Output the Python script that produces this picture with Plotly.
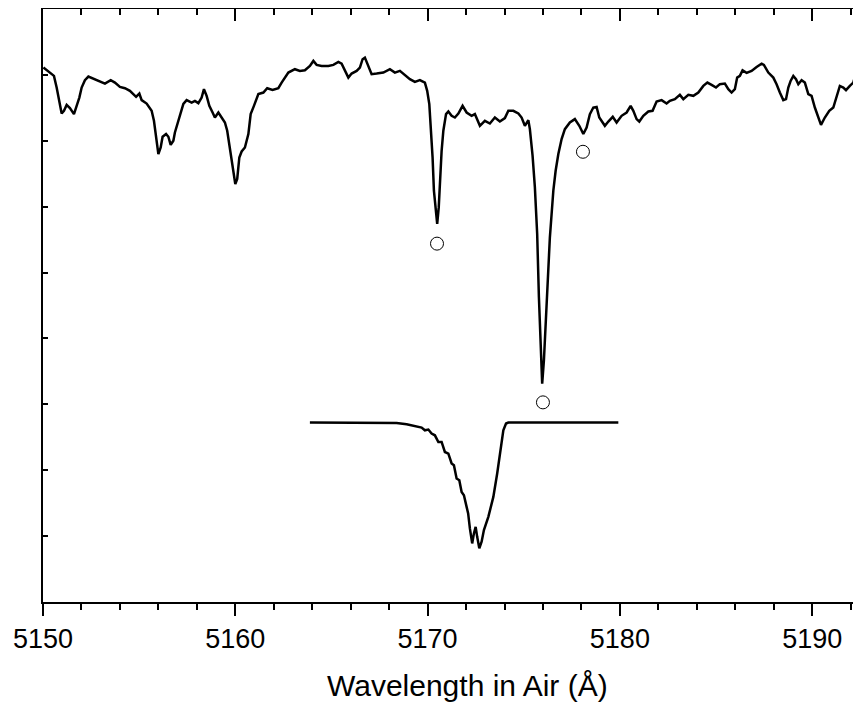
import plotly.graph_objects as go

# Observed spectrum (wavelength in Å, relative flux units)
spec_wl = [5150.02,5150.45,5150.57,5150.71,5150.85,5150.97,5151.09,5151.23,5151.40,5151.61,
5151.75,5151.89,5152.01,5152.18,5152.36,5152.79,5153.22,5153.52,5153.74,5154.00,
5154.26,5154.52,5154.84,5155.01,5155.13,5155.39,5155.65,5155.77,5155.88,5156.00,
5156.12,5156.22,5156.40,5156.52,5156.64,5156.78,5156.86,5156.98,5157.12,5157.30,
5157.47,5157.73,5157.90,5158.08,5158.25,5158.37,5158.51,5158.65,5158.82,5158.94,
5159.12,5159.29,5159.46,5159.58,5159.69,5159.81,5159.90,5160.00,5160.10,5160.21,
5160.33,5160.50,5160.68,5160.80,5160.97,5161.20,5161.46,5161.66,5161.94,5162.24,
5162.41,5162.76,5163.10,5163.36,5163.62,5163.88,5164.06,5164.23,5164.49,5164.84,
5165.10,5165.36,5165.53,5165.70,5165.88,5166.05,5166.31,5166.48,5166.62,5166.74,
5166.92,5167.09,5167.35,5167.70,5168.04,5168.30,5168.56,5168.82,5169.08,5169.34,
5169.60,5169.86,5169.98,5170.09,5170.18,5170.26,5170.33,5170.44,5170.50,5170.58,
5170.64,5170.73,5170.82,5170.96,5171.08,5171.25,5171.42,5171.60,5171.82,5172.03,
5172.29,5172.46,5172.72,5172.98,5173.24,5173.50,5173.76,5174.02,5174.20,5174.46,
5174.72,5174.89,5175.06,5175.24,5175.32,5175.46,5175.58,5175.70,5175.79,5175.88,
5175.96,5176.05,5176.16,5176.28,5176.36,5176.45,5176.54,5176.66,5176.80,5176.97,
5177.14,5177.40,5177.66,5177.89,5178.10,5178.27,5178.44,5178.62,5178.79,5178.93,
5179.14,5179.22,5179.40,5179.63,5179.83,5180.09,5180.35,5180.56,5180.70,5180.87,
5181.01,5181.22,5181.48,5181.70,5181.91,5182.17,5182.43,5182.60,5182.86,5183.12,
5183.30,5183.56,5183.82,5184.08,5184.34,5184.55,5184.77,5185.00,5185.20,5185.46,
5185.64,5185.81,5185.98,5186.10,5186.24,5186.38,5186.59,5186.85,5187.11,5187.37,
5187.49,5187.72,5187.98,5188.15,5188.32,5188.50,5188.64,5188.76,5188.88,5189.02,
5189.16,5189.28,5189.45,5189.62,5189.80,5189.97,5190.14,5190.32,5190.46,5190.66,
5190.89,5191.10,5191.27,5191.44,5191.62,5191.76,5191.96,5192.14,5192.22,5192.40,5192.54]
spec_flux = [8.111,8.020,7.985,7.808,7.606,7.414,7.455,7.545,7.495,7.405,
7.530,7.656,7.808,7.920,7.974,7.924,7.868,7.920,7.883,7.818,
7.798,7.758,7.667,7.717,7.617,7.565,7.455,7.303,7.026,6.798,
6.898,7.061,7.102,7.061,6.939,7.000,7.126,7.242,7.353,7.561,
7.617,7.580,7.606,7.571,7.656,7.783,7.682,7.530,7.429,7.353,
7.429,7.353,7.277,7.152,6.950,6.747,6.545,6.344,6.420,6.747,
6.838,6.898,7.102,7.405,7.530,7.708,7.732,7.798,7.773,7.798,
7.883,8.035,8.086,8.061,8.071,8.136,8.212,8.152,8.136,8.136,
8.152,8.197,8.171,8.061,7.959,8.020,8.061,8.111,8.238,8.262,
8.136,8.011,8.020,8.035,8.086,8.035,8.061,8.000,7.935,7.894,
7.920,7.883,7.758,7.556,7.177,6.747,6.242,5.939,5.738,5.989,
6.444,6.848,7.152,7.405,7.444,7.379,7.353,7.414,7.530,7.429,
7.379,7.405,7.227,7.303,7.262,7.353,7.292,7.344,7.455,7.455,
7.414,7.353,7.227,7.314,7.177,6.773,6.292,5.586,4.626,3.768,
3.314,3.667,4.374,5.030,5.535,5.889,6.242,6.545,6.798,7.026,
7.177,7.277,7.329,7.227,7.102,7.202,7.405,7.505,7.515,7.353,
7.253,7.227,7.292,7.364,7.277,7.379,7.429,7.530,7.455,7.329,
7.292,7.379,7.444,7.455,7.595,7.617,7.565,7.606,7.632,7.697,
7.632,7.697,7.682,7.732,7.833,7.883,7.848,7.808,7.859,7.868,
7.783,7.732,7.783,7.959,7.985,8.068,8.030,8.061,8.121,8.171,
8.152,8.035,7.959,7.859,7.732,7.617,7.632,7.808,7.909,7.985,
7.935,7.859,7.920,7.883,7.708,7.682,7.505,7.353,7.242,7.353,
7.455,7.505,7.656,7.833,7.808,7.768,7.833,7.883,7.970,7.995,7.985]

# Model / lower profile
prof_wl = [5163.88,5167.00,5168.39,5168.91,5169.34,5169.69,5169.86,5170.04,5170.21,5170.38,
5170.56,5170.73,5170.90,5171.08,5171.25,5171.37,5171.51,5171.65,5171.77,5171.89,
5172.03,5172.11,5172.20,5172.32,5172.41,5172.50,5172.58,5172.69,5172.81,5172.93,
5173.16,5173.42,5173.62,5173.80,5173.94,5174.08,5174.20,5179.92]
prof_flux = [2.723,2.723,2.717,2.697,2.667,2.647,2.606,2.617,2.556,2.530,
2.429,2.429,2.277,2.253,2.102,2.076,1.874,1.848,1.671,1.621,
1.444,1.344,1.117,0.889,1.041,1.141,0.989,0.814,0.914,1.091,
1.292,1.595,1.950,2.353,2.606,2.708,2.723,2.723]

# Line identification markers
mark_wl = [5170.49, 5176.00, 5178.08]
mark_flux = [5.439, 3.030, 6.833]

x_ticks = [5150, 5160, 5170, 5180, 5190]
x_range = [5150, 5192.54]
y_range = [0, 9]
x_title = "Wavelength in Air (Å)"
x_title_center = 5172.05  # title centred on the full (uncropped) axis

fig = go.Figure()
fig.add_trace(go.Scatter(x=spec_wl, y=spec_flux, mode="lines",
                         line=dict(color="black", width=2.5), showlegend=False, hoverinfo="skip"))
fig.add_trace(go.Scatter(x=prof_wl, y=prof_flux, mode="lines",
                         line=dict(color="black", width=2.5), showlegend=False, hoverinfo="skip"))
fig.add_trace(go.Scatter(x=mark_wl, y=mark_flux, mode="markers", xaxis="x2",
                         marker=dict(symbol="circle", size=13, color="white",
                                     line=dict(color="black", width=1)),
                         showlegend=False, hoverinfo="skip"))

font = "Liberation Sans, Arial, sans-serif"
fig.update_layout(
    width=853, height=697,
    margin=dict(l=35, r=0, t=1, b=103),
    paper_bgcolor="white", plot_bgcolor="white",
    font=dict(family=font, color="black"),
    xaxis=dict(range=x_range, tickvals=x_ticks, ticks="outside", ticklen=12, tickwidth=1.5,
               tickcolor="black", showline=True, linecolor="black", linewidth=2,
               showgrid=False, zeroline=False, tickfont=dict(size=27),
               minor=dict(dtick=2, tick0=5150, ticks="outside", ticklen=6, tickwidth=1.5,
                          tickcolor="black", showgrid=False)),
    xaxis2=dict(range=x_range, overlaying="x", side="top", anchor="y",
                tickvals=x_ticks, ticks="inside", ticklen=12, tickwidth=1.5, tickcolor="black",
                showticklabels=False, showline=True, linecolor="black", linewidth=2,
                showgrid=False, zeroline=False,
                minor=dict(dtick=2, tick0=5150, ticks="inside", ticklen=6, tickwidth=1.5,
                           tickcolor="black", showgrid=False)),
    yaxis=dict(range=y_range, dtick=1, tick0=0, ticks="inside", ticklen=5, tickwidth=1.5,
               tickcolor="black", showticklabels=False, showline=True, linecolor="black",
               linewidth=2, showgrid=False, zeroline=False),
    annotations=[dict(text=x_title, x=x_title_center, xref="x", y=-0.140, yref="paper",
                      xanchor="center", yanchor="middle", showarrow=False,
                      font=dict(size=30, family=font, color="black"))],
)

fig.write_html("out.html")
